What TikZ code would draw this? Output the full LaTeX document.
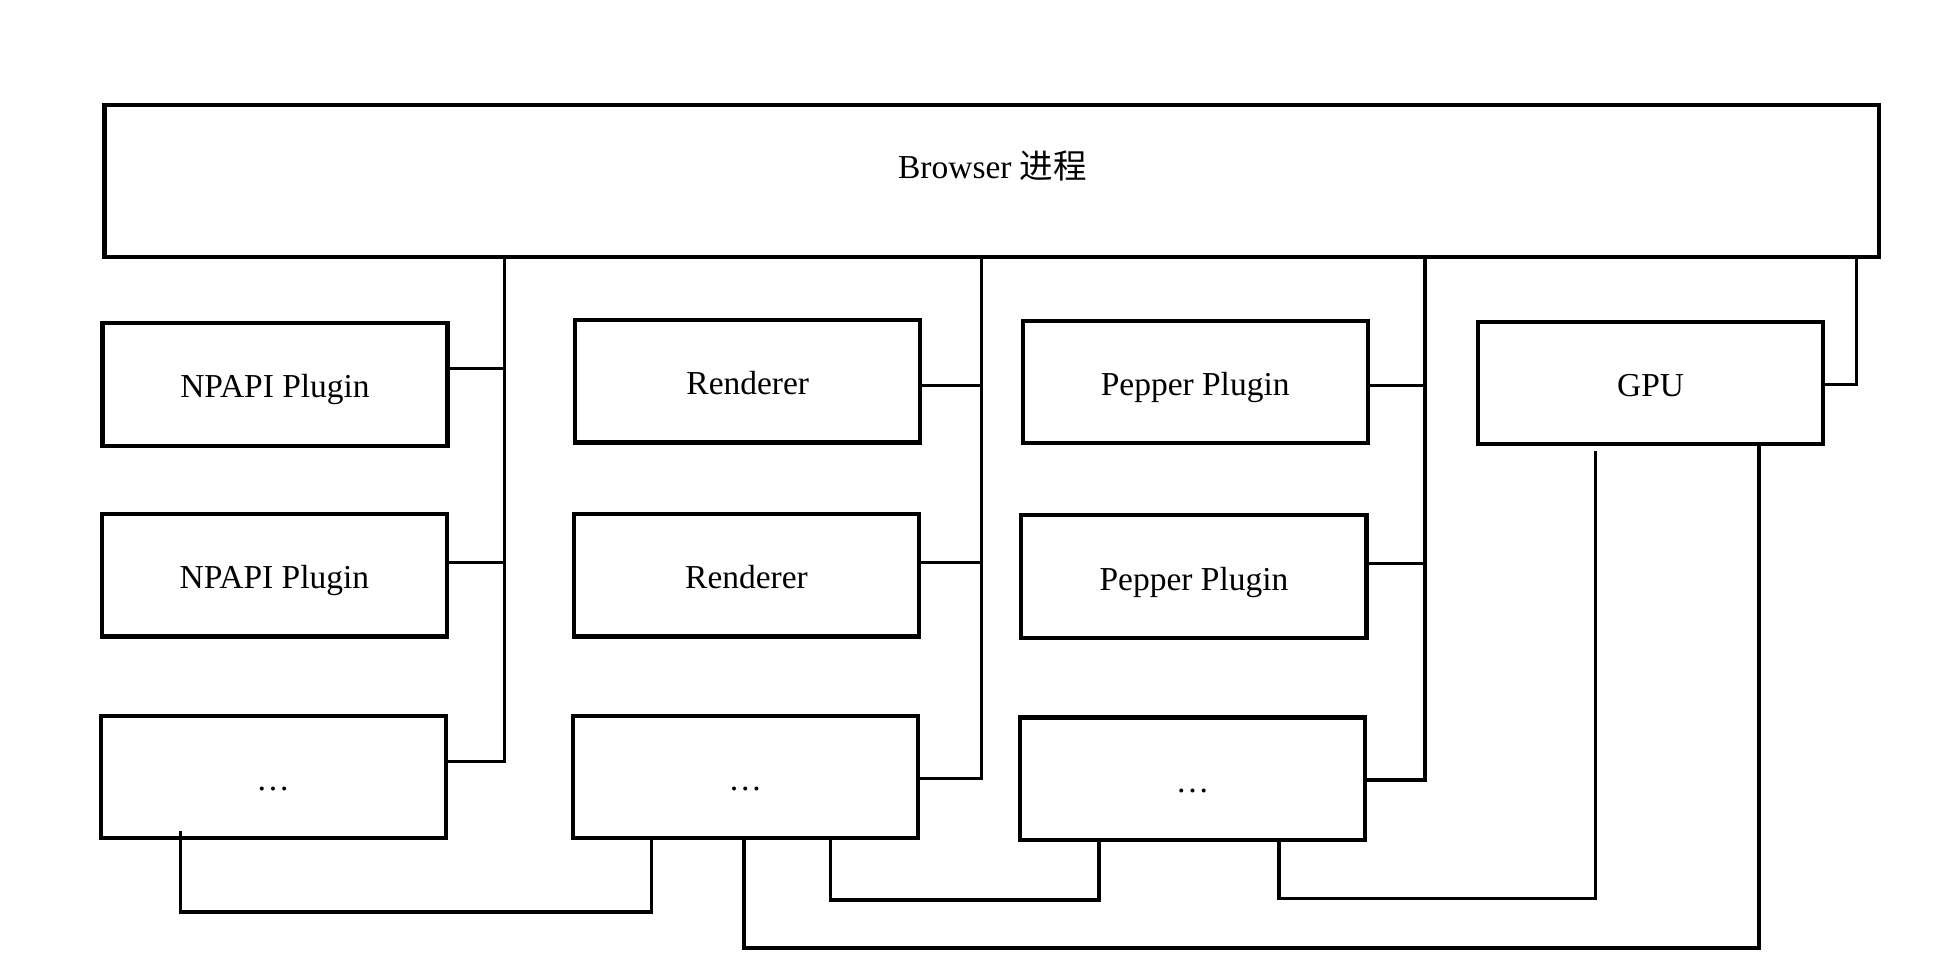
\documentclass[tikz,border=0pt]{standalone}
\usepackage{fontspec}
\setmainfont{Liberation Serif}
\newfontfamily\cjk{Noto Sans CJK SC}
\begin{document}
\begin{tikzpicture}[x=0.01cm,y=-0.01cm,
  procbox/.style={draw,line width=0.95pt,minimum width=2.79cm,minimum height=0.99cm,inner sep=0pt,text height=6.2pt,text depth=0pt,font=\fontsize{7.7}{9}\selectfont},
  conn/.style={line width=0.8pt}]
\useasboundingbox[fill=white] (0,0) rectangle (1568,789.7);
% Browser
\node[procbox,minimum width=14.35cm,minimum height=1.23cm] (browser) at (802.5,146.5) {};
\node[font=\fontsize{7.7}{9}\selectfont,inner sep=0pt] (browsertxt) at (803,134) {Browser {\cjk 进程}};
% column 1
\node[procbox] (np1) at (222.5,311) {NPAPI Plugin};
\node[procbox] (np2) at (222,465.5) {NPAPI Plugin};
\node[procbox] (np3) at (221,628.5) {\dots};
% column 2
\node[procbox] (r1) at (605,308.5) {Renderer};
\node[procbox] (r2) at (604,465.5) {Renderer};
\node[procbox] (r3) at (603,628.5) {\dots};
% column 3
\node[procbox] (p1) at (967,309) {Pepper Plugin};
\node[procbox] (p2) at (966,466.5) {Pepper Plugin};
\node[procbox] (p3) at (965,630) {\dots};
% GPU
\node[procbox] (gpu) at (1335.5,310) {GPU};
% bus 1
\draw[conn] (np3.east |- 0,616) -| (browser.south -| 408,0);
\draw[conn] (np1.east |- 0,298) -- (408,298);
\draw[conn] (np2.east |- 0,455) -- (408,455);
% bus 2
\draw[conn] (r3.east |- 0,630) -| (browser.south -| 794,0);
\draw[conn] (r1.east |- 0,312) -- (794,312);
\draw[conn] (r2.east |- 0,455) -- (794,455);
% bus 3
\draw[conn] (p3.east |- 0,631) -| (browser.south -| 1153,0);
\draw[conn] (p1.east |- 0,312) -- (1153,312);
\draw[conn] (p2.east |- 0,456) -- (1153,456);
% GPU to browser
\draw[conn] (gpu.east |- 0,311) -| (browser.south -| 1502,0);
% bottom links
\coordinate (np3in) at (146,672);
\draw[conn] (np3in) |- (527,738) -- (r3.south -| 527,0);
\draw[conn] (r3.south -| 672,0) |- (889,728) -- (p3.south -| 889,0);
\coordinate (gpugap) at (1291,365);
\draw[conn] (p3.south -| 1035,0) |- (1291,727) -- (gpugap);
\draw[conn] (r3.south -| 602,0) |- (1423,767) -- (gpu.south -| 1423,0);
\end{tikzpicture}
\end{document}
